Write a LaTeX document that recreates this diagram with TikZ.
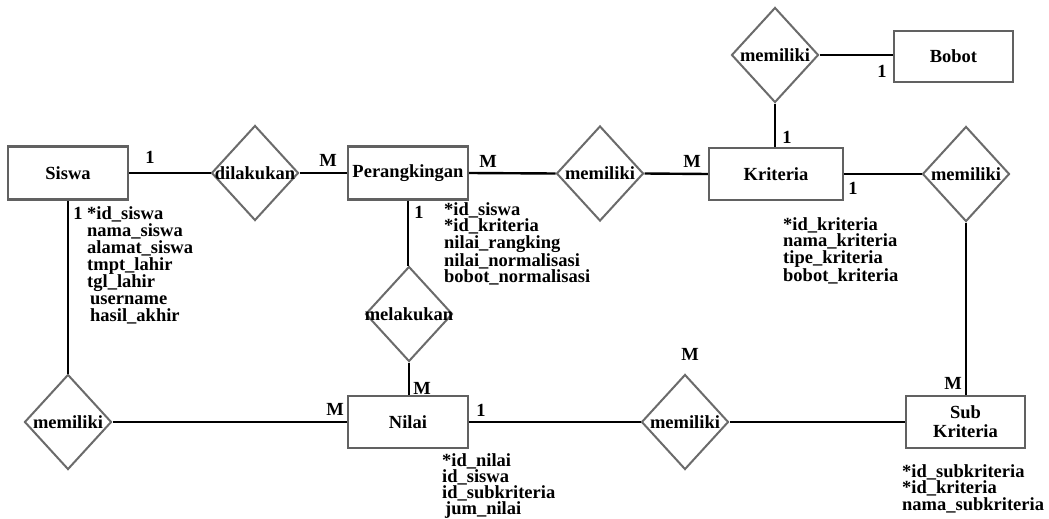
\documentclass[tikz,border=0pt]{standalone}
\usepackage{fontspec}
\setmainfont{Liberation Serif}
\usetikzlibrary{shapes.geometric}
\tikzset{
  ent/.style={draw=black!62, line width=2.2pt, minimum width=120pt, minimum height=53pt, inner sep=0pt, align=center, font=\fontsize{18.5}{19}\selectfont\bfseries},
  rel/.style={diamond, draw=black!58, line width=2pt, minimum width=87pt, minimum height=95pt, inner sep=0pt},
  rlab/.style={font=\fontsize{18.5}{19}\selectfont\bfseries, inner sep=0pt},
  conn/.style={line width=2.4pt, black},
  card/.style={font=\fontsize{18.5}{19}\selectfont\bfseries, inner sep=0pt},
  attr/.style={font=\fontsize{18.5}{#1}\selectfont\bfseries, align=left, anchor=north west, inner sep=0pt}
}
\begin{document}
\begin{tikzpicture}[x=1pt,y=-1pt]
\useasboundingbox (0,0) rectangle (1049,519);
\fill[white] (0,0) rectangle (1049,519);

% entities
\node[ent] (siswa) at (68,173) {Siswa};
\node[ent] (per) at (408,173) {Perangkingan};
\node[ent, minimum width=134pt, minimum height=52pt] (kri) at (776,174) {Kriteria};
\node[ent, minimum width=119pt, minimum height=51pt] (bobot) at (953.5,56.5) {Bobot};
\node[ent, minimum width=119pt, minimum height=52pt] (sub) at (965.5,422) {Sub\\Kriteria};
\node[ent, minimum height=52pt] (nilai) at (408,422) {Nilai};

% relationships
\node[rel] (d1) at (255,173) {};
\node[rlab] (d1t) at (d1.center) {dilakukan};
\node[rel] (d2) at (600,173.5) {};
\node[rlab] (d2t) at (d2.center) {memiliki};
\node[rel] (d3) at (775,55) {};
\node[rlab] (d3t) at (d3.center) {memiliki};
\node[rel] (d4) at (966,174) {};
\node[rlab] (d4t) at (d4.center) {memiliki};
\node[rel] (d5) at (685,422) {};
\node[rlab] (d5t) at (d5.center) {memiliki};
\node[rel] (d6) at (68,422) {};
\node[rlab] (d6t) at (d6.center) {memiliki};
\node[rel] (d7) at (409,314) {};
\node[rlab] (d7t) at (d7.center) {melakukan};

% connectors
\draw[conn] (siswa.east) -- (d1.west);
\draw[conn] (d1.east) -- (per.west);
\draw[conn] (per.east) -- (d2.west);
\draw[conn] (d2.east) -- (kri.west);
\draw[conn] (d3.south) -- (d3.south |- kri.north);
\draw[conn] (d3.east) -- (d3.east -| bobot.west);
\draw[conn] (kri.east) -- (d4.west);
\draw[conn] (d4.south) -- (d4.south |- sub.north);
\draw[conn] (sub.west) -- (d5.east);
\draw[conn] (d5.west) -- (nilai.east);
\draw[conn] (nilai.west) -- (d6.east);
\draw[conn] (d6.north) -- (siswa.south);
\draw[conn] (per.south) -- (per.south |- d7.north);
\draw[conn] (d7.south) -- (d7.south |- nilai.north);

% cardinalities
\node[card] (c1) at (150,157) {1};
\node[card] (c2) at (328,160) {M};
\node[card] (c3) at (488,161) {M};
\node[card] (c4) at (692,161) {M};
\node[card] (c5) at (787,137) {1};
\node[card] (c6) at (882,71) {1};
\node[card] (c7) at (853,188) {1};
\node[card] (c8) at (953,383) {M};
\node[card] (c9) at (690,354) {M};
\node[card] (c10) at (481,410) {1};
\node[card] (c11) at (335,409) {M};
\node[card] (c12) at (422,388) {M};
\node[card] (c13) at (78,213) {1};
\node[card] (c14) at (419,212) {1};

% attributes
\node[attr=17] (as) at (87,206.4) {*id\_siswa\\nama\_siswa\\alamat\_siswa\\tmpt\_lahir\\tgl\_lahir\\\hspace{3pt}username\\\hspace{3pt}hasil\_akhir};
\node[attr=14.7] (ap) at (444,202.4) {*id\_siswa\\*id\_kriteria\\nilai\_rangking\\nilai\_normalisasi\\bobot\_normalisasi};
\node[attr=14] (ak) at (783,217.4) {*id\_kriteria\\nama\_kriteria\\tipe\_kriteria\\bobot\_kriteria};
\node[attr=16] (an) at (442,453.4) {*id\_nilai\\id\_siswa\\id\_subkriteria\\\hspace{3pt}jum\_nilai};
\node[attr=14] (asub) at (902,464.4) {*id\_subkriteria\\*id\_kriteria\\nama\_subkriteria};
\end{tikzpicture}
\end{document}
